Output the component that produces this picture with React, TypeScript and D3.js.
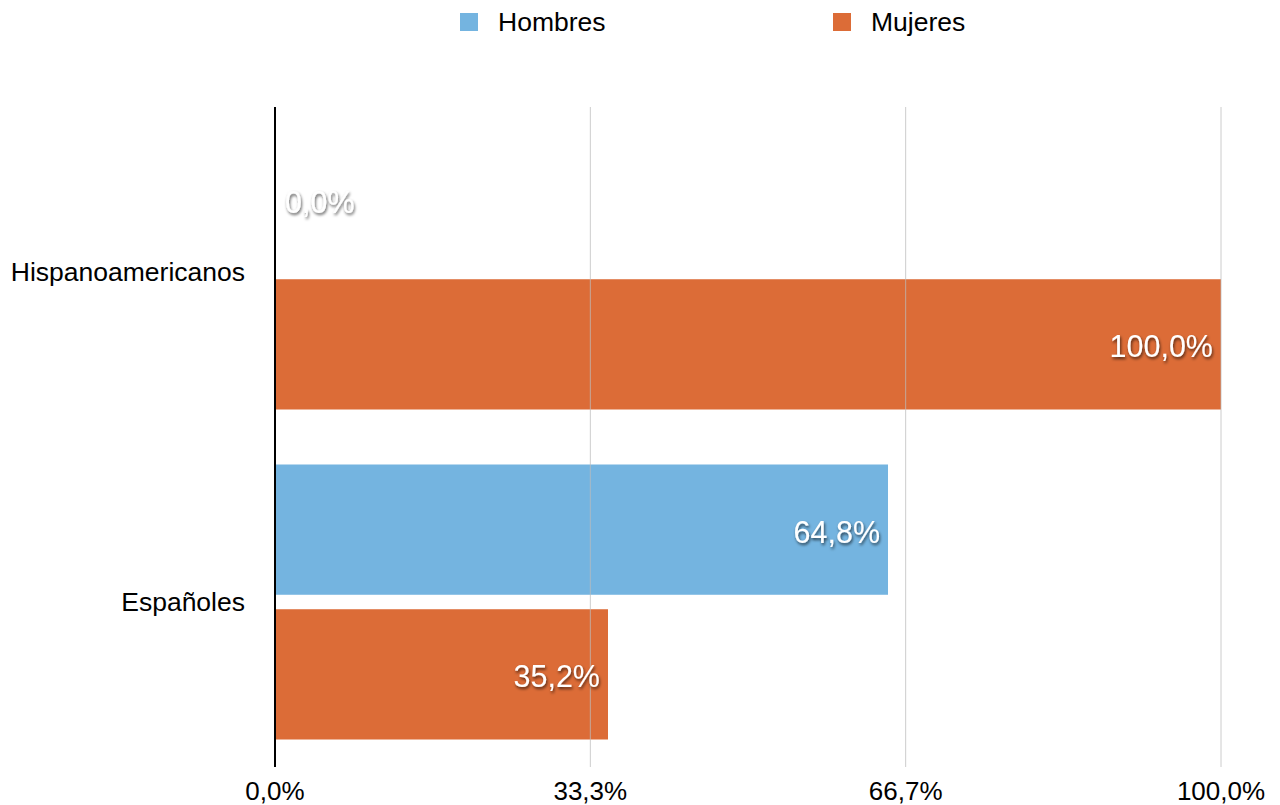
import React from "react";
import * as d3 from "d3";

const categories = ["Hispanoamericanos", "Españoles"];
const series = ["Hombres", "Mujeres"];
const hombres = [0.0, 0.648];
const mujeres = [1.0, 0.352];
const tickValues = [0, 1 / 3, 2 / 3, 1];
const tickLabels = ["0,0%", "33,3%", "66,7%", "100,0%"];
const colors = ["#74b4e0", "#dc6c37"];

const W = 1280;
const H = 805;
const font = "'Liberation Sans', Arial, Helvetica, sans-serif";

export default function App() {
  const x = d3.scaleLinear().domain([0, 1]).range([275, 1221]);
  const y = d3.scaleBand<string>().domain(categories).range([107, 767]).padding(0);
  const groupH = y.bandwidth() * (275 / 330);
  const inner = d3.scaleBand<string>().domain(series).range([0, groupH]).paddingInner(0.1);
  const values = [hombres, mujeres];
  const fmt = (v: number) => (v * 100).toFixed(1).replace(".", ",") + "%";

  return (
    <svg width={W} height={H} style={{ position: "absolute", left: 0, top: 0, background: "#fff" }}>
      <defs>
        <filter id="sh" x="-20%" y="-40%" width="140%" height="180%">
          <feDropShadow dx="1" dy="2" stdDeviation="1.4" floodColor="#000" floodOpacity="0.65" />
        </filter>
      </defs>
      {/* legend */}
      {series.map((s, i) => {
        const lx = i === 0 ? 460 : 833;
        return (
          <g key={s}>
            <rect x={lx} y={13} width={18} height={18} fill={colors[i]} />
            <text x={lx + 38} y={31} fontFamily={font} fontSize={26.5} fill="#000">{s}</text>
          </g>
        );
      })}
      {/* bars */}
      {categories.map((c, ci) => {
        const gy = (y(c) as number) + (y.bandwidth() - groupH) / 2;
        return series.map((s, si) => {
          const v = values[si][ci];
          const by = gy + (inner(s) as number);
          return (
            <rect key={c + s} x={x(0)} y={by} width={x(v) - x(0)} height={inner.bandwidth()} fill={colors[si]} />
          );
        });
      })}
      {/* gridlines */}
      {tickValues.slice(1).map((t) => (
        <line key={t} x1={x(t)} x2={x(t)} y1={107} y2={767} stroke="#bbb" strokeOpacity={0.75} strokeWidth={1} />
      ))}
      {/* axis */}
      <line x1={x(0)} x2={x(0)} y1={107} y2={767} stroke="#000" strokeWidth={2} />
      {/* category labels */}
      {categories.map((c) => (
        <text key={c} x={245} y={(y(c) as number) + y.bandwidth() / 2 + 9} textAnchor="end" fontFamily={font} fontSize={26.5} fill="#000">
          {c}
        </text>
      ))}
      {/* tick labels */}
      {tickValues.map((t, i) => (
        <text key={t} x={x(t)} y={800} textAnchor="middle" fontFamily={font} fontSize={26} fill="#000">
          {tickLabels[i]}
        </text>
      ))}
      {/* value labels */}
      {categories.map((c, ci) => {
        const gy = (y(c) as number) + (y.bandwidth() - groupH) / 2;
        return series.map((s, si) => {
          const v = values[si][ci];
          const cy = gy + (inner(s) as number) + inner.bandwidth() / 2 + 13;
          const zero = v === 0;
          return (
            <text
              key={"l" + c + s}
              x={zero ? x(0) + 10 : x(v) - 8}
              y={cy}
              textAnchor={zero ? "start" : "end"}
              fontFamily={font}
              fontSize={30.5}
              fill="#fff"
              filter="url(#sh)"
            >
              {fmt(v)}
            </text>
          );
        });
      })}
    </svg>
  );
}
